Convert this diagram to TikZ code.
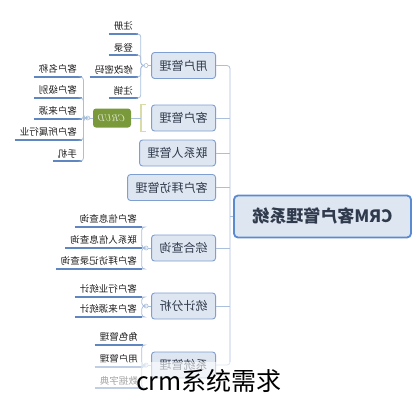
\documentclass[tikz,border=0pt]{standalone}
\usepackage{fontspec}
\usepackage{graphicx}
\newfontfamily\cjk{Noto Sans CJK SC}
\definecolor{boxfill}{HTML}{DEE6F1}
\definecolor{boxline}{HTML}{7E9FCF}
\definecolor{rootline}{HTML}{5A8AD0}
\definecolor{linkc}{HTML}{A9BFDC}
\definecolor{ulc}{HTML}{5F86C0}
\definecolor{crud}{HTML}{7A993A}
\definecolor{brk}{HTML}{D8DCA6}
\definecolor{txt}{HTML}{2F3A4C}
\usetikzlibrary{calc}
\newcommand\mir[1]{\reflectbox{#1}}
\tikzset{
	rootbox/.style={draw=rootline, line width=1.8pt, fill=boxfill, rounded corners=4pt,
		minimum width=177pt, minimum height=42pt, text=txt,
		font=\cjk\bfseries\fontsize{17}{17}\selectfont},
	branch/.style={draw=boxline, line width=0.9pt, fill=boxfill, rounded corners=3pt,
		minimum height=26pt, inner xsep=8pt, anchor=east, text=txt,
		font=\cjk\fontsize{12}{12}\selectfont},
	leaf/.style={anchor=south east, inner xsep=5pt, inner ysep=3pt, text=black!88,
		font=\cjk\fontsize{9.5}{9.5}\selectfont},
	uline/.style={draw=ulc, line width=1.4pt},
	link/.style={draw=linkc, line width=0.8pt, rounded corners=3pt},
	hub/.style={circle, draw=linkc, fill=white, line width=0.6pt, inner sep=0pt, minimum size=4pt},
	crudbox/.style={fill=crud, rounded corners=3pt, minimum width=38pt, minimum height=19pt,
		inner sep=1pt, text=white!85!crud, font=\itshape\fontsize{9.5}{9.5}\selectfont},
}
\begin{document}
\begin{tikzpicture}[x=1pt,y=-1pt]
	\useasboundingbox (0,0) rectangle (419,400);
	% main box and branches
	\node[rootbox] (root) at (322.5,216.5) {\mir{CRM客户管理系统}};
	\node[branch] (ub) at (216,65.5) {\mir{用户管理}};
	\node[branch] (cb) at (216,118) {\mir{客户管理}};
	\node[branch] (lb) at (216,153) {\mir{联系人管理}};
	\node[branch] (bb) at (216,187.5) {\mir{客户拜访管理}};
	\node[branch] (zb) at (216,248) {\mir{综合查询}};
	\node[branch] (tb) at (216,306) {\mir{统计分析}};
	\node[branch] (sb) at (216,365) {\mir{系统管理}};
	% spine
	\coordinate (spine) at (230,216.5);
	\draw[link] (root.west) -- (spine);
	\draw[link] (ub.east) -| (spine) |- (sb.east);
	\foreach \b in {cb,lb,bb,zb,tb}
	\draw[link] (\b.east) -- (\b.east -| spine);
	% user leaves
	\node[hub] (uh) at ($(ub.west)+(-5,0)$) {};
	\draw[link] (ub.west) -- (uh);
	\foreach \t/\y [count=\i] in {注册/34, 登录/55, 修改密码/77, 注销/98}{
		\node[leaf] (u\i) at (138,\y) {\mir{\t}};
		\draw[uline] (u\i.south west) -- (u\i.south east);
		\draw[link] (uh.west) -- ++(-3,0) |- (u\i.south east);
	}
	% crud
	\node[crudbox] (cr) at (112,118) {\mir{CRUD}};
	\draw[brk, line width=1.6pt] ($(cb.north west)+(-5,0)$) -- ++(-5,0) coordinate (k1)
		-- ($(cb.south west)+(-10,0)$) -- ++(5,0);
	\draw[link] (cr.east) -- (cr.east -| k1);
	\node[hub] (ch) at ($(cr.west)+(-5,0)$) {};
	\draw[link] (cr.west) -- (ch);
	\foreach \t/\y [count=\i] in {客户名称/77, 客户级别/98, 客户来源/119, 客户所属行业/140, 手机/161}{
		\node[leaf] (c\i) at (82,\y) {\mir{\t}};
		\draw[uline] (c\i.south west) -- (c\i.south east);
		\draw[link] (ch.west) -- ++(-2,0) |- (c\i.south east);
	}
	% query leaves
	\node[hub] (zh) at ($(zb.west)+(-5,0)$) {};
	\draw[link] (zb.west) -- (zh);
	\foreach \t/\y [count=\i] in {客户信息查询/227, 联系人信息查询/248, 客户拜访记录查询/269}{
		\node[leaf] (z\i) at (142,\y) {\mir{\t}};
		\draw[uline] (z\i.south west) -- (z\i.south east);
		\draw[link] (zh.west) -- ++(-2,0) |- (z\i.south east);
	}
	% stats leaves
	\node[hub] (th) at ($(tb.west)+(-5,0)$) {};
	\draw[link] (tb.west) -- (th);
	\foreach \t/\y [count=\i] in {客户行业统计/297, 客户来源统计/317}{
		\node[leaf] (t\i) at (142,\y) {\mir{\t}};
		\draw[uline] (t\i.south west) -- (t\i.south east);
		\draw[link] (th.west) -- ++(-2,0) |- (t\i.south east);
	}
	% system leaves
	\node[hub] (sh) at ($(sb.west)+(-5,0)$) {};
	\draw[link] (sb.west) -- (sh);
	\foreach \t/\y [count=\i] in {角色管理/345, 用户管理/367, 数据字典/388}{
		\node[leaf] (s\i) at (143,\y) {\mir{\t}};
		\draw[uline] (s\i.south west) -- (s\i.south east);
		\draw[link] (sh.west) -- ++(-2,0) |- (s\i.south east);
	}
	% faded band and caption
	\fill[white, opacity=0.6] (0,362) rectangle (300,397);
	\node[anchor=west, inner sep=0pt, font=\cjk\fontsize{25}{25}\selectfont] (cap) at (136,381) {crm系统需求};
\end{tikzpicture}
\end{document}
